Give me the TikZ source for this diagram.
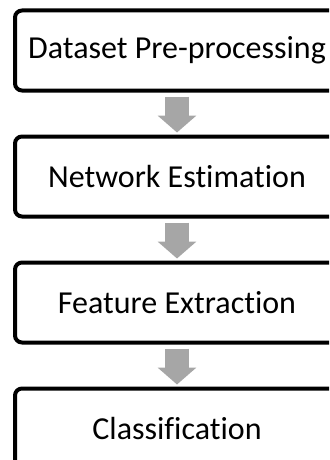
\documentclass[tikz,border=0pt]{standalone}
\usepackage{fontspec}
\setmainfont[Ligatures=CommonOff]{Carlito}
\usetikzlibrary{positioning,arrows.meta}
\begin{document}
\begin{tikzpicture}[x=1pt,y=1pt,line join=round,
	stagebox/.style={draw=black,line width=4pt,rounded corners=7pt,fill=white,minimum width=324pt,minimum height=80pt,inner sep=0pt,font=\fontsize{32}{38}\selectfont},
	flowarrow/.style={draw=arrowgray,line width=24pt,-{Triangle[width=38pt,length=17pt]},shorten <=4pt,shorten >=2pt}]
	\definecolor{arrowgray}{HTML}{A6A6A6}
	\useasboundingbox (0,0) rectangle (329,-460);
	\clip (0,0) rectangle (329,-460);
	\node[stagebox] (prep) at (177,-50.5) {Dataset Pre-processing};
	\node[stagebox,below=42pt of prep] (netw) {Network Estimation};
	\node[stagebox,below=42pt of netw] (feat) {Feature Extraction};
	\node[stagebox,below=42pt of feat] (clas) {Classification};
	\foreach \a/\b in {prep/netw,netw/feat,feat/clas}{\draw[flowarrow] (\a.south)--(\b.north);}
\end{tikzpicture}
\end{document}
